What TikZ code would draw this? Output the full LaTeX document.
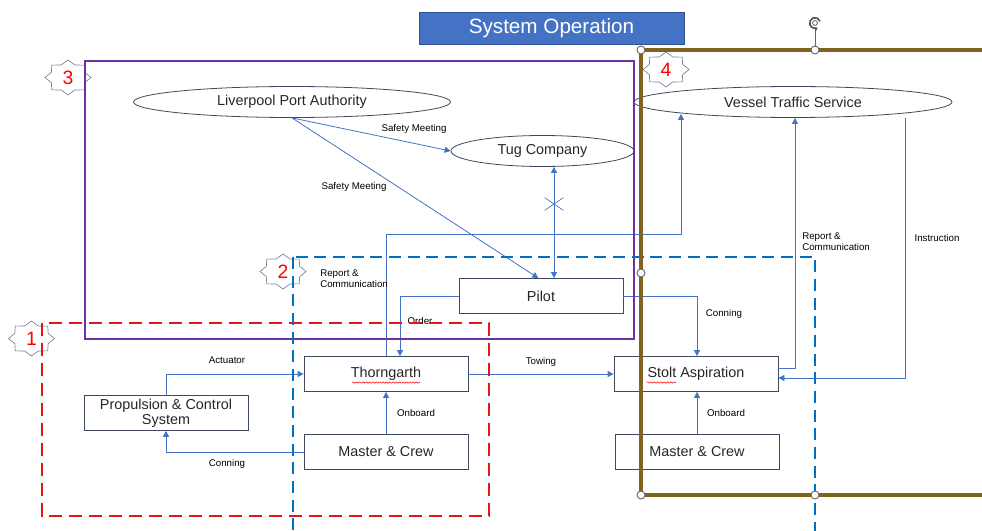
\documentclass[tikz,border=0pt]{standalone}
\usepackage{fontspec}
\setmainfont{Liberation Sans}
\usetikzlibrary{arrows.meta, shapes.geometric, shapes.misc, decorations.pathmorphing}

\definecolor{connblue}{RGB}{68,114,196}
\definecolor{boxline}{RGB}{64,72,92}
\definecolor{boxtext}{RGB}{38,38,38}
\definecolor{grpurple}{RGB}{112,48,160}
\definecolor{grred}{RGB}{235,20,20}
\definecolor{grblue}{RGB}{0,112,192}
\definecolor{grolive}{RGB}{127,99,30}
\definecolor{titlefill}{RGB}{68,114,196}
\definecolor{titleline}{RGB}{47,82,143}
\definecolor{badgeline}{RGB}{120,130,150}

\tikzset{
  box/.style={rectangle, draw=boxline, line width=.6pt, minimum width=123pt, minimum height=26.25pt, inner sep=1pt, align=center, text=boxtext},
  party/.style={ellipse, draw=boxline, line width=.6pt, minimum height=23.25pt, inner sep=0pt, text=boxtext},
  conn/.style={draw=connblue, line width=.6pt},
  lbl/.style={font=\fontsize{7.3}{8.3}\selectfont, inner sep=0pt, align=left},
  group/.style={line width=2.2pt},
  badge/.style={draw=badgeline, fill=white, line width=.5pt},
  badgenum/.style={text=red, font=\fontsize{14.5}{15}\selectfont, inner sep=0pt},
  handle/.style={draw=gray!80!black, fill=white, line width=.7pt},
  spell/.style={red, line width=.4pt, decorate, decoration={snake, amplitude=.5pt, segment length=2.5pt}}
}
% star badge round a number node
\newcommand{\badgestar}[1]{%
  \draw[badge, shift={(#1.center)}] (0:23 and 17.5)
    \foreach \a [evaluate=\a as \b using \a+22.5] in {0,45,...,315} {-- (\a:23 and 17.5) -- (\b:18 and 13.5)} -- cycle;}

\begin{document}
\begin{tikzpicture}[>={Triangle[width=4.5pt,length=4.5pt]}, x=.75pt, y=-.75pt, font=\fontsize{10.8}{11.5}\selectfont]
\useasboundingbox (0,0) rectangle (982,531);

% Title
\node[rectangle, draw=titleline, fill=titlefill, text=white, minimum width=198.75pt, minimum height=24pt, font=\fontsize{15.5}{16}\selectfont] (ttl) at (551.5,28) {System Operation};

% Badges
\coordinate (b1c) at (31.5,338.5);
\coordinate (b2c) at (283,271.5);
\coordinate (b3c) at (68,77.5);
\coordinate (b4c) at (666,69.5);
\badgestar{b1c}
\badgestar{b2c}
\badgestar{b3c}
\badgestar{b4c}
\node[badgenum] (b1) at (b1c) {1};
\node[badgenum] (b2) at (b2c) {2};
\node[badgenum] (b3) at (b3c) {3};
\node[badgenum] (b4) at (b4c) {4};

% Parties
\node[party, minimum width=237.75pt] (lpa) at (292,102) {Liverpool Port Authority};
\node[party, minimum width=137.25pt] (tug) at (542.5,151) {Tug Company};
\node[party, minimum width=238.5pt] (vts) at (793,102) {Vessel Traffic Service};

% Boxes
\node[box] (pilot) at (541,296) {Pilot};
\node[box] (thorn) at (386,374) {Thorngarth};
\node[box] (prop) at (166,413) {Propulsion \& Control\\System};
\node[box] (mcl) at (386,452) {Master \& Crew};
\node[box] (stolt) at (696,374) {Stolt Aspiration};
\node[box] (mcr) at (697,452) {Master \& Crew};

% spell-check marks
\draw[spell] ([xshift=-25.5pt,yshift=-6.4pt]thorn.center) -- ++(51pt,0);
\draw[spell] ([xshift=-37pt,yshift=-6.4pt]stolt.center) -- ++(22pt,0);

% Safety meetings
\draw[conn,->] (lpa.south) -- (tug.west);
\node[lbl] (sm1) at (414,129) {Safety Meeting};
\draw[conn,->] (lpa.south) -- ([xshift=-2pt]pilot.north);
\node[lbl] (sm2) at (354,187) {Safety Meeting};

% Tug <-> Pilot, cut
\draw[conn,<->] ([xshift=9.75pt]pilot.north) -- ([xshift=9.75pt]pilot.north |- tug.south);
\node[cross out, draw=connblue, line width=.5pt, minimum width=13.5pt, minimum height=9pt, inner sep=0pt] (cut) at (554,204) {};

% Report to VTS
\draw[conn,->] (thorn.north) -- ++(0,-122) -| ([xshift=-84pt,yshift=3pt]vts.south);
\node[lbl, anchor=west] (rc1) at (320,279) {Report \&\\Communication};
\draw[conn,->] ([yshift=4.5pt]stolt.east) -| ([xshift=1.5pt]vts.south);
\node[lbl, anchor=west] (rc2) at (802,242) {Report \&\\Communication};

% Instruction
\draw[conn,->] ([xshift=84pt]vts.south) |- ([yshift=-3pt]stolt.east);
\node[lbl] (ins) at (937,238) {Instruction};

% Pilot orders
\draw[conn,->] (pilot.west) -| ([xshift=10.5pt]thorn.north);
\node[lbl] (ord) at (420,321) {Order};
\draw[conn,->] (pilot.east) -| ([xshift=.75pt]stolt.north);
\node[lbl] (con1) at (724,314) {Conning};

% Towing
\draw[conn,->] (thorn.east) -- node[lbl, above=5.5pt] (tow) {Towing} (stolt.west);

% Thorngarth side
\draw[conn,->] (prop.north) |- (thorn.west);
\node[lbl] (act) at (227,360) {Actuator};
\draw[conn,->] (mcl.west) -| (prop.south);
\node[lbl] (con2) at (227,464) {Conning};
\draw[conn,->] (mcl.north) -- (thorn.south);
\node[lbl] (onb1) at (416,413) {Onboard};

% Stolt side
\draw[conn,->] (mcr.north) -- (mcr.north |- stolt.south);
\node[lbl] (onb2) at (726,413) {Onboard};

% Groups
\draw[group, grpurple] (85,61) rectangle (634,339);
\draw[group, grred, dash pattern=on 10pt off 5pt] (42,323) rectangle (489,516);
\draw[group, grblue, dash pattern=on 9pt off 5pt] (293,257) rectangle (815,545);
\draw[group, grolive, line width=2.6pt] (641,50) rectangle (995,495);

% selection handles
\draw[gray!80!black, line width=.7pt] (815,46) -- (815,30);
\draw[gray!70!black, line width=1.3pt, -{Stealth[length=3.2pt,width=4.5pt]}] (815,23) ++(20:4pt) arc[start angle=20, end angle=300, radius=4pt];
\draw[gray!70!black, line width=.6pt] (815,23) circle[radius=1.8pt];
\foreach \p in {(641,50),(815,50),(641,273),(641,495),(815,495)}
  \draw[handle] \p circle[radius=3pt];
\end{tikzpicture}
\end{document}
